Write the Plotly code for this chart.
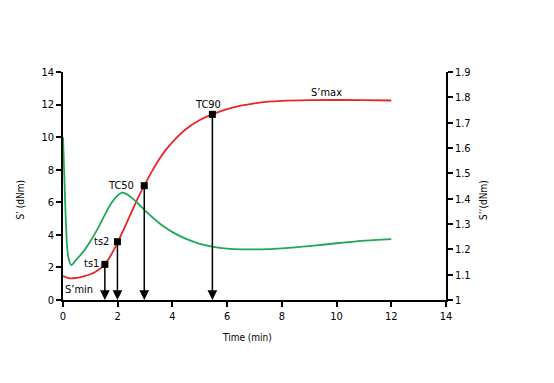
import plotly.graph_objects as go

# S' (left axis, dNm)
red_t = [0.0, 0.25, 0.5, 0.75, 1.0, 1.25, 1.5, 1.75, 2.0, 2.25, 2.5, 2.75, 3.0, 3.25, 3.5, 3.75, 4.0, 4.5, 5.0, 5.5, 6.0, 6.5, 7.0, 7.5, 8.0, 9.0, 10.0, 11.0, 12.0]
red_v = [1.47, 1.33, 1.36, 1.45, 1.58, 1.8, 2.12, 2.75, 3.55, 4.45, 5.38, 6.3, 7.13, 7.9, 8.6, 9.2, 9.7, 10.5, 11.05, 11.43, 11.72, 11.93, 12.08, 12.18, 12.23, 12.27, 12.28, 12.27, 12.25]

# S'' (right axis, dNm)
green_t = [0.0, 0.05, 0.1, 0.15, 0.2, 0.3, 0.5, 0.75, 1.0, 1.25, 1.5, 1.75, 2.0, 2.15, 2.25, 2.5, 2.75, 3.0, 3.25, 3.5, 3.75, 4.0, 4.5, 5.0, 5.5, 6.0, 6.5, 7.0, 7.5, 8.0, 8.5, 9.0, 9.5, 10.0, 10.5, 11.0, 11.5, 12.0]
green_v = [1.643, 1.482, 1.321, 1.212, 1.167, 1.138, 1.161, 1.192, 1.232, 1.278, 1.330, 1.380, 1.413, 1.424, 1.422, 1.405, 1.380, 1.353, 1.328, 1.305, 1.285, 1.268, 1.241, 1.222, 1.210, 1.203, 1.200, 1.200, 1.201, 1.204, 1.208, 1.213, 1.218, 1.224, 1.229, 1.234, 1.237, 1.240]

# characteristic points on S'
pt_names = ["ts1", "ts2", "TC50", "TC90"]
pt_t = [1.53, 1.99, 2.97, 5.46]
pt_v = [2.19, 3.58, 7.02, 11.4]

x_ticks = [0, 2, 4, 6, 8, 10, 12, 14]
y_ticks = [0, 2, 4, 6, 8, 10, 12, 14]
y2_ticks = [1, 1.1, 1.2, 1.3, 1.4, 1.5, 1.6, 1.7, 1.8, 1.9]

FONT = "DejaVu Sans Condensed, Liberation Sans Narrow, Roboto, sans-serif"
FS = 10
RED = "#e8262a"
GREEN = "#1fa855"

fig = go.Figure()
fig.add_trace(go.Scatter(x=red_t, y=red_v, mode="lines", line=dict(color=RED, width=1.8, shape="spline", smoothing=1.0), yaxis="y", showlegend=False))
fig.add_trace(go.Scatter(x=green_t, y=green_v, mode="lines", line=dict(color=GREEN, width=1.8, shape="spline", smoothing=0.9), yaxis="y2", showlegend=False))
fig.add_trace(go.Scatter(x=pt_t, y=pt_v, mode="markers", marker=dict(symbol="square", size=7, color="black"), yaxis="y", showlegend=False))

ann = []
for t, v in zip(pt_t, pt_v):
    ann.append(dict(x=t, y=0, ax=t, ay=v, xref="x", yref="y", axref="x", ayref="y",
                    showarrow=True, arrowhead=2, arrowsize=1.3, arrowwidth=1.5, arrowcolor="black", text=""))

lab_pos = {"ts1": (1.03, 2.25), "ts2": (1.42, 3.62), "TC50": (2.12, 7.06), "TC90": (5.3, 12.03)}
for n in pt_names:
    x, y = lab_pos[n]
    ann.append(dict(x=x, y=y, xref="x", yref="y", text=n, showarrow=False, font=dict(size=FS + 1, color="black", family=FONT)))
ann.append(dict(x=9.63, y=12.75, xref="x", yref="y", text="S’max", showarrow=False, font=dict(size=FS + 1, color="black", family=FONT)))
ann.append(dict(x=0.6, y=0.67, xref="x", yref="y", text="S’min", showarrow=False, font=dict(size=FS + 1, color="black", family=FONT)))

ann.append(dict(x=0.48, y=-0.197, xref="paper", yref="paper", text="Time (min)", showarrow=False, font=dict(size=FS, color="black", family=FONT)))
ann.append(dict(x=-0.13, y=0.439, xref="paper", yref="paper", text="S’ (dNm)", textangle=-90, showarrow=False, font=dict(size=FS, color="black", family=FONT)))
ann.append(dict(x=1.119, y=0.439, xref="paper", yref="paper", text="S’’(dNm)", textangle=-90, showarrow=False, font=dict(size=FS, color="black", family=FONT)))

axis_common = dict(showgrid=False, zeroline=False, showline=True, linecolor="black", linewidth=1.5,
                   ticks="outside", ticklen=5, tickwidth=1.5, tickcolor="black",
                   tickfont=dict(size=FS + 1, color="black", family=FONT))

fig.update_layout(
    width=554, height=383,
    margin=dict(l=55, r=116, t=64, b=91),
    plot_bgcolor="white", paper_bgcolor="white",
    xaxis=dict(range=[0, 14], tickvals=x_ticks, **axis_common),
    yaxis=dict(range=[0, 14], tickvals=y_ticks, **axis_common),
    yaxis2=dict(range=[1, 1.9], tickvals=y2_ticks, overlaying="y", side="right", **axis_common),
    annotations=ann,
)
fig.write_html("out.html")
